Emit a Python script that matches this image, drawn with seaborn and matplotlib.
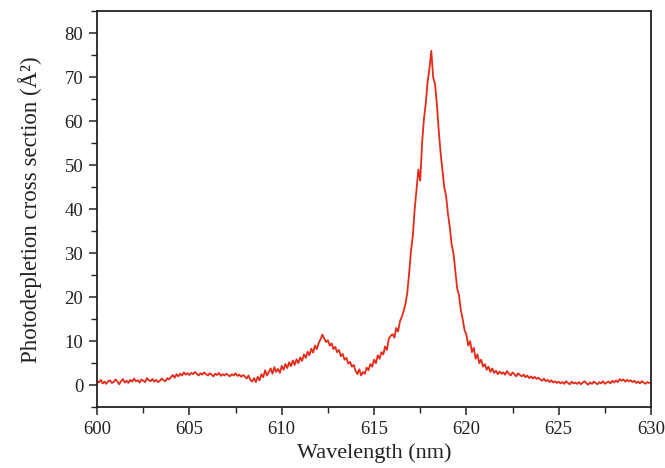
import numpy as np
import pandas as pd
import matplotlib
matplotlib.use("Agg")
import matplotlib.pyplot as plt
from matplotlib.ticker import MultipleLocator
import seaborn as sns

# Wavelength grid (nm), 0.1 nm steps from 600 to 630
wavelength = np.round(np.arange(600.0, 630.05, 0.1), 1)

# Photodepletion cross section (Å²), one row per nanometre
cross_section = [
    1.0, 0.6, 1.2, 0.4, 0.8, 0.3, 0.9, 1.1, 0.5, 0.7,        # 600
    1.3, 0.8, 0.2, 0.9, 1.4, 0.6, 1.0, 0.5, 1.2, 0.8,        # 601
    1.5, 0.9, 1.1, 0.6, 1.3, 1.0, 0.7, 1.6, 1.1, 0.9,        # 602
    1.4, 0.8, 1.2, 0.7, 1.0, 1.5, 1.1, 0.9, 1.6, 1.3,        # 603
    1.8, 2.3, 1.7, 2.5, 2.0, 2.6, 2.2, 2.9, 2.4, 2.7,        # 604
    2.3, 2.8, 2.5, 3.0, 2.6, 2.2, 2.7, 2.4, 2.9, 2.5,        # 605
    2.2, 2.7, 2.4, 2.0, 2.6, 2.3, 2.8, 2.1, 2.5, 2.2,        # 606
    2.6, 2.3, 2.0, 2.5, 2.2, 2.7, 2.1, 2.4, 1.9, 2.3,        # 607
    2.0, 1.5, 2.2, 1.2, 0.8, 1.6, 0.7, 1.9, 1.1, 2.5,        # 608
    1.8, 3.4, 2.2, 3.0, 3.8, 2.6, 4.1, 3.0, 3.7, 2.8,        # 609
    4.4, 3.5, 4.8, 3.9, 5.2, 4.3, 5.6, 4.6, 5.9, 5.0,        # 610
    6.3, 5.5, 7.0, 6.2, 7.6, 6.8, 8.3, 7.4, 9.0, 8.2,        # 611
    9.6, 10.4, 11.5, 10.6, 9.8, 10.2, 9.0, 9.5, 8.2, 8.7,    # 612
    7.5, 8.0, 6.6, 7.1, 5.8, 6.2, 4.9, 5.3, 4.2, 4.6,        # 613
    3.2, 2.5, 3.6, 2.2, 3.0, 2.6, 4.0, 3.4, 4.8, 4.2,        # 614
    5.8, 5.0, 6.8, 6.0, 7.5, 7.0, 8.8, 8.0, 10.6, 11.2,      # 615
    11.6, 10.8, 13.0, 12.2, 14.5, 15.5, 16.8, 18.5, 21.0, 25.5,   # 616
    30.5, 34.0, 40.0, 44.5, 49.0, 46.5, 55.0, 60.5, 64.0, 69.0,   # 617
    72.0, 76.0, 70.0, 68.5, 64.0, 58.0, 53.0, 49.0, 45.0, 43.0,   # 618
    39.0, 36.0, 32.0, 30.0, 26.0, 22.0, 20.5, 17.0, 15.0, 12.5,   # 619
    11.5, 9.0, 10.0, 7.5, 8.5, 6.0, 7.0, 5.0, 5.8, 4.2,      # 620
    4.8, 3.5, 4.2, 3.0, 3.8, 2.8, 3.3, 2.5, 3.1, 2.6,        # 621
    2.9, 2.4, 3.2, 2.6, 2.2, 2.9, 2.5, 2.0, 2.7, 2.3,        # 622
    2.0, 2.4, 1.8, 2.2, 1.6, 2.0, 1.5, 1.9, 1.4, 1.7,        # 623
    1.3, 1.0, 1.5, 0.9, 1.2, 0.7, 1.1, 0.6, 0.9, 0.5,        # 624
    0.8, 0.4, 0.7, 0.3, 0.9, 0.5, 0.2, 0.8, 0.4, 0.6,        # 625
    0.3, 0.7, 0.2, 0.6, 0.9, 0.4, 0.1, 0.6, 0.3, 0.8,        # 626
    0.5, 0.2, 0.7, 0.4, 0.9, 0.3, 0.6, 0.8, 0.4, 1.0,        # 627
    0.6, 1.1, 0.7, 1.4, 1.0, 1.3, 0.8, 1.2, 0.9, 1.1,        # 628
    0.7, 1.0, 0.5, 0.8, 0.4, 0.9, 0.6, 0.3, 0.7, 0.5,        # 629
    0.6,                                                     # 630
]

x_ticks = [600, 605, 610, 615, 620, 625, 630]
y_ticks = [0, 10, 20, 30, 40, 50, 60, 70, 80]

df = pd.DataFrame({"wavelength": wavelength, "cross_section": cross_section})

sns.set_style("ticks")
plt.rcParams["font.family"] = ["Liberation Serif", "DejaVu Serif"]

fig = plt.figure(figsize=(6.65, 4.68), dpi=100)
ax = fig.add_axes([0.146, 0.130, 0.833, 0.846])

sns.lineplot(data=df, x="wavelength", y="cross_section", ax=ax,
             color="#e62a18", linewidth=1.3)

ax.set_xlim(600, 630)
ax.set_ylim(-5, 85)
ax.set_xticks(x_ticks)
ax.set_yticks(y_ticks)
ax.xaxis.set_minor_locator(MultipleLocator(2.5))
ax.yaxis.set_minor_locator(MultipleLocator(5))
ax.tick_params(axis="both", which="major", direction="out", length=6,
               width=1.1, labelsize=13.5, pad=4, colors="#222222")
ax.tick_params(axis="both", which="minor", direction="out", length=4,
               width=1.0, colors="#222222")

for side in ["left", "right", "top", "bottom"]:
    ax.spines[side].set_visible(True)
    ax.spines[side].set_linewidth(1.3)
    ax.spines[side].set_color("#222222")

ax.set_xlabel("Wavelength (nm)", fontsize=16, labelpad=4, color="#222222")
ax.set_ylabel("Photodepletion cross section (Å²)", fontsize=16.5,
              labelpad=16, color="#222222")

fig.savefig("out.png", dpi=100)
